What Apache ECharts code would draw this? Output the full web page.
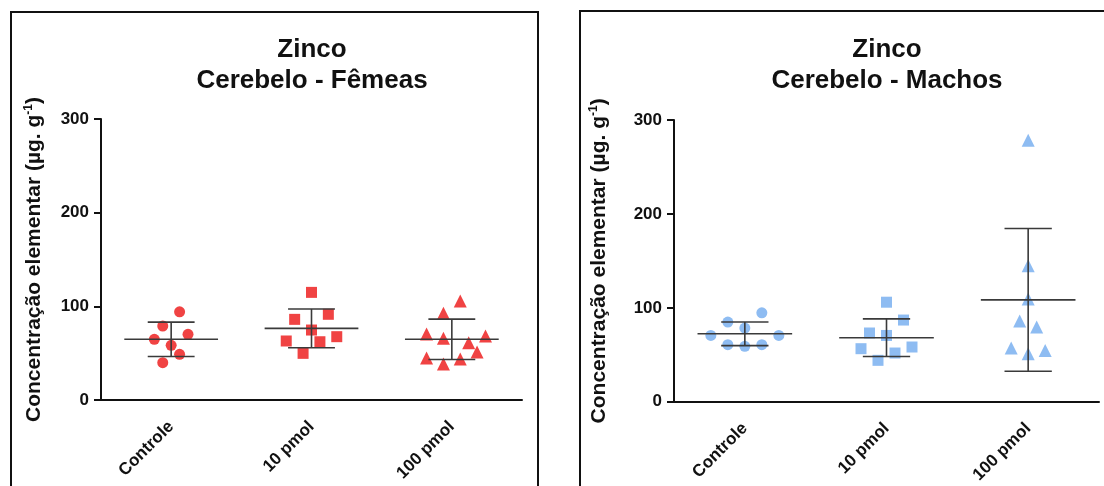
<!DOCTYPE html>
<html>
<head>
<meta charset="utf-8">
<script src="https://cdn.jsdelivr.net/npm/echarts@6/dist/echarts.min.js"></script>
<style>
  html, body { margin: 0; padding: 0; background: #fff; }
  #main { width: 1104px; height: 486px; }
</style>
</head>
<body>
<div id="main"></div>
<script>
// grupos
const categories = ['Controle', '10 pmol', '100 pmol']
const yTicks = [0, 100, 200, 300]

// Fêmeas
const femControle = [94.2, 79.0, 70.1, 64.8, 58.4, 48.8, 39.8]
const fem10 = [114.9, 86.1, 91.5, 74.7, 63.0, 62.2, 67.6, 49.8]
const fem100 = [105.7, 92.5, 70.4, 65.8, 68.3, 61.2, 51.2, 44.8, 38.4, 43.8]
const femMean = [64.8, 76.5, 64.8]
const femSd = [18.3, 20.7, 21.5]

// Machos
const macControle = [94.7, 84.8, 78.5, 70.6, 70.6, 60.8, 59.0, 60.8]
const mac10 = [106.0, 87.0, 73.2, 70.6, 58.3, 56.5, 51.9, 44.1]
const mac100 = [278.5, 144.9, 109.5, 85.9, 79.5, 57.3, 51.2, 54.7]
const macMean = [72.4, 68.2, 108.5]
const macSd = [12.6, 20.0, 76.0]

// deslocamento horizontal dos pontos (passos de espalhamento)
const femJitter = [[1, -1, 2, -2, 0, 1, -1], [0, -2, 2, 0, -3, 1, 3, -1], [1, -1, -3, -1, 4, 2, 3, -3, -1, 1]]
const macJitter = [[2, -2, 0, -4, 4, -2, 0, 2], [0, 2, -2, 0, 3, -3, 1, -1], [0, 0, 0, -1, 1, -2, 0, 2]]
const jitterStep = 0.06

const red = '#f04343'
const blue = '#8ebcf2'
const symbols = ['circle', 'rect', 'triangle']
const symbolSizes = [11, 11, 13]
const fontFam = 'Liberation Sans, Arial, sans-serif'

const chart = echarts.init(document.getElementById('main'))

function pointsFor(groups, jitter){
    return groups.map((vals, gi) => vals.map((v, i) => [gi + jitter[gi][i] * jitterStep, v]))
}

function barsFor(mean, sd){
    return mean.map((m, i) => [i, m, sd[i]])
}

// media (linha larga) + desvio padrao
function renderBars(params, api){
    const x = api.value(0)
    const m = api.value(1)
    const sd = api.value(2)
    const c = api.coord([x, m])
    const top = api.coord([x, m + sd])
    const bot = api.coord([x, m - sd])
    const unit = api.size([1, 0])[0]
    const mw = unit * 0.334
    const cw = unit * 0.167
    const style = { stroke: '#3a3a3a', lineWidth: 1.6 }
    return {
        type: 'group',
        children: [
            { type: 'line', shape: { x1: c[0] - mw, y1: c[1], x2: c[0] + mw, y2: c[1] }, style: style },
            { type: 'line', shape: { x1: c[0], y1: top[1], x2: c[0], y2: bot[1] }, style: style },
            { type: 'line', shape: { x1: c[0] - cw, y1: top[1], x2: c[0] + cw, y2: top[1] }, style: style },
            { type: 'line', shape: { x1: c[0] - cw, y1: bot[1], x2: c[0] + cw, y2: bot[1] }, style: style }
        ]
    }
}

function yAxisFor(gridIndex, gap){
    return {
        type: 'value',
        gridIndex: gridIndex,
        min: yTicks[0],
        max: yTicks[yTicks.length - 1],
        interval: 100,
        name: '{a|Concentração elementar (µg. g}{sup|-1}{a|)}',
        nameLocation: 'middle',
        nameGap: gap,
        nameTextStyle: {
            rich: {
                a: { fontSize: 21, fontWeight: 'bold', fontFamily: fontFam, color: '#111' },
                sup: { fontSize: 12, fontWeight: 'bold', fontFamily: fontFam, color: '#111', padding: [0, 0, 10, 0] }
            }
        },
        axisLine: { show: true, onZero: false, lineStyle: { color: '#111', width: 2 } },
        axisTick: { show: true, length: 7, lineStyle: { color: '#111', width: 2 } },
        axisLabel: { margin: 12, fontSize: 17, fontWeight: 'bold', fontFamily: fontFam, color: '#111' },
        splitLine: { show: false }
    }
}

function catAxisFor(gridIndex){
    return {
        type: 'category',
        gridIndex: gridIndex,
        data: categories,
        axisLine: { onZero: false, lineStyle: { color: '#111', width: 2 } },
        axisTick: { alignWithLabel: true, length: 8, lineStyle: { color: '#111', width: 2 } },
        axisLabel: { rotate: 45, margin: 24, fontSize: 17, fontWeight: 'bold', fontFamily: fontFam, color: '#111', interval: 0 }
    }
}

function valXAxisFor(gridIndex){
    return { type: 'value', gridIndex: gridIndex, min: -0.5, max: 2.5, show: false }
}

const femPts = pointsFor([femControle, fem10, fem100], femJitter)
const macPts = pointsFor([macControle, mac10, mac100], macJitter)

const series = []
femPts.forEach((pts, gi) => {
    series.push({ type: 'scatter', xAxisIndex: 1, yAxisIndex: 0, data: pts, symbol: symbols[gi], symbolSize: symbolSizes[gi], itemStyle: { color: red, opacity: 1 }, z: 2 })
})
macPts.forEach((pts, gi) => {
    series.push({ type: 'scatter', xAxisIndex: 3, yAxisIndex: 1, data: pts, symbol: symbols[gi], symbolSize: symbolSizes[gi], itemStyle: { color: blue, opacity: 1 }, z: 2 })
})
series.push({ type: 'custom', xAxisIndex: 1, yAxisIndex: 0, data: barsFor(femMean, femSd), renderItem: renderBars, z: 5 })
series.push({ type: 'custom', xAxisIndex: 3, yAxisIndex: 1, data: barsFor(macMean, macSd), renderItem: renderBars, z: 5 })

const titleStyle = { fontSize: 26, fontWeight: 'bold', fontFamily: fontFam, color: '#111', lineHeight: 31 }

const option = {
    animation: false,
    backgroundColor: '#fff',
    title: [
        { text: 'Zinco\nCerebelo - Fêmeas', left: 312, top: 34, padding: 0, textAlign: 'center', textStyle: titleStyle },
        { text: 'Zinco\nCerebelo - Machos', left: 887, top: 34, padding: 0, textAlign: 'center', textStyle: titleStyle }
    ],
    graphic: [
        { type: 'rect', shape: { x: 11, y: 12, width: 527, height: 500 }, style: { fill: 'none', stroke: '#111', lineWidth: 2 }, silent: true },
        { type: 'rect', shape: { x: 580, y: 11, width: 540, height: 500 }, style: { fill: 'none', stroke: '#111', lineWidth: 2 }, silent: true }
    ],
    grid: [
        { left: 101, top: 119, width: 421, height: 281 },
        { left: 674, top: 120, width: 425, height: 283 }
    ],
    xAxis: [catAxisFor(0), valXAxisFor(0), catAxisFor(1), valXAxisFor(1)],
    yAxis: [yAxisFor(0, 56), yAxisFor(1, 64)],
    series: series
}

chart.setOption(option)
</script>
</body>
</html>
